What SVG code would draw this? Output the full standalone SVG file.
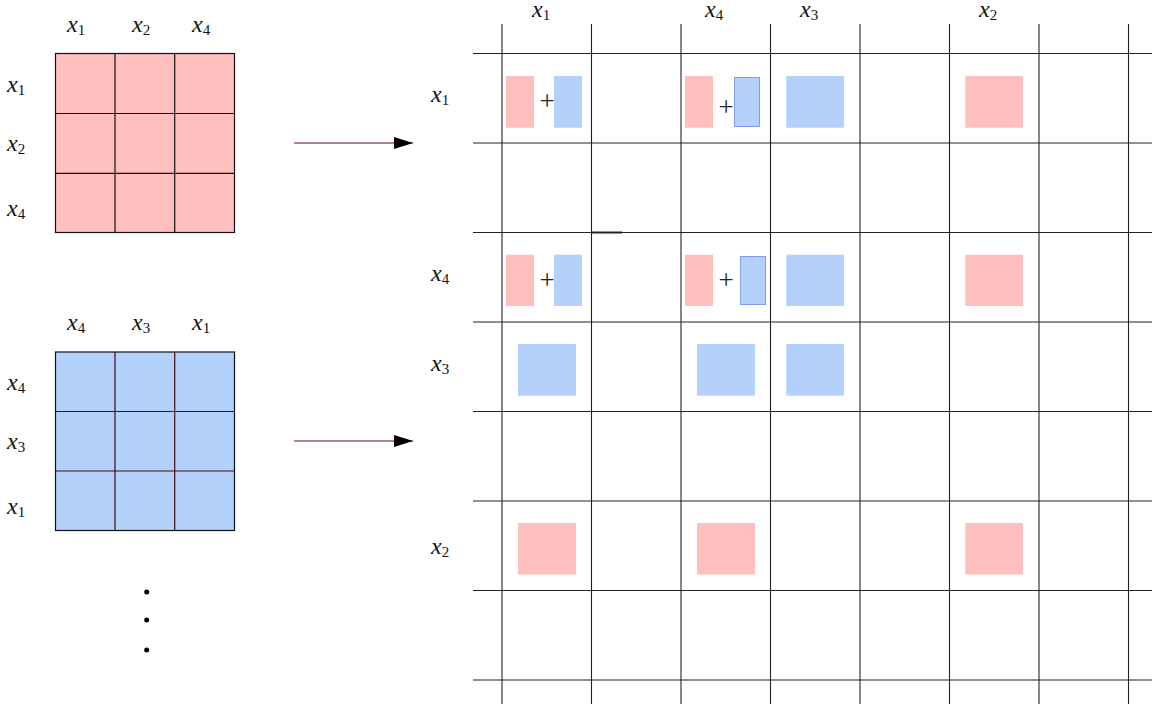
<svg xmlns="http://www.w3.org/2000/svg" width="1152" height="704" viewBox="0 0 1152 704">
<defs>
<style>
.lbl{font-family:"Liberation Serif",serif;font-size:24px;fill:#111}
.lbl .v{font-style:italic}
.lbl .s{font-size:15px;font-style:normal}
.plus{font-family:"Liberation Serif",serif;font-size:27px;fill:#222;text-anchor:middle}
.pink{fill:#ffbfbf}
.blue{fill:#b3d1fb}
.bluek{fill:#b3d1fb;stroke:#7f9cf0;stroke-width:1}
.grid line{stroke:#222;stroke-width:1.1}
.mline{stroke:#111;stroke-width:1.2;fill:none}
.mline2{stroke:#4a0a12;stroke-width:1.2;fill:none}
.conn{stroke:#5a0d12;stroke-width:1.1;fill:none}
</style>
<marker id="ah" markerWidth="20" markerHeight="12" refX="19" refY="6" orient="auto" markerUnits="userSpaceOnUse">
<path d="M0,0 L19,6 L0,12 Z" fill="#000"/>
</marker>
</defs>
<rect width="1152" height="704" fill="#fff"/>

<g id="matrix-pink">
<rect x="55.5" y="53.5" width="179" height="179" class="pink"/>
<path class="mline" d="M115,53.5V232.5M174.7,53.5V232.5M55.5,113.5H234.5M55.5,173.3H234.5"/>
<rect x="55.5" y="53.5" width="179" height="179" class="mline"/>
<text class="lbl" x="67" y="32"><tspan class="v">x</tspan><tspan class="s" dy="3">1</tspan></text>
<text class="lbl" x="132" y="32"><tspan class="v">x</tspan><tspan class="s" dy="3">2</tspan></text>
<text class="lbl" x="192" y="32"><tspan class="v">x</tspan><tspan class="s" dy="3">4</tspan></text>
<text class="lbl" x="7" y="92"><tspan class="v">x</tspan><tspan class="s" dy="3">1</tspan></text>
<text class="lbl" x="7" y="151"><tspan class="v">x</tspan><tspan class="s" dy="3">2</tspan></text>
<text class="lbl" x="7" y="216"><tspan class="v">x</tspan><tspan class="s" dy="3">4</tspan></text>
</g>

<g id="matrix-blue">
<rect x="55.5" y="352" width="179" height="178.5" class="blue"/>
<path class="mline2" d="M115,352V530.5M174.7,352V530.5M55.5,411.5H234.5M55.5,471H234.5"/>
<rect x="55.5" y="352" width="179" height="178.5" class="mline"/>
<text class="lbl" x="67" y="330"><tspan class="v">x</tspan><tspan class="s" dy="3">4</tspan></text>
<text class="lbl" x="132" y="330"><tspan class="v">x</tspan><tspan class="s" dy="3">3</tspan></text>
<text class="lbl" x="192" y="330"><tspan class="v">x</tspan><tspan class="s" dy="3">1</tspan></text>
<text class="lbl" x="7" y="390"><tspan class="v">x</tspan><tspan class="s" dy="3">4</tspan></text>
<text class="lbl" x="7" y="449"><tspan class="v">x</tspan><tspan class="s" dy="3">3</tspan></text>
<text class="lbl" x="7" y="514"><tspan class="v">x</tspan><tspan class="s" dy="3">1</tspan></text>
</g>

<g id="ellipsis">
<circle cx="146.7" cy="592" r="2.5" fill="#000"/>
<circle cx="146.7" cy="620" r="2.5" fill="#000"/>
<circle cx="146.7" cy="650" r="2.5" fill="#000"/>
</g>

<g id="connectors">
<line class="conn" x1="294" y1="143" x2="413" y2="143" marker-end="url(#ah)"/>
<line class="conn" x1="294" y1="441" x2="413" y2="441" marker-end="url(#ah)"/>
</g>

<g id="grid" class="grid">
<line x1="473" y1="53.5" x2="1152" y2="53.5"/>
<line x1="473" y1="143" x2="1152" y2="143"/>
<line x1="473" y1="232.5" x2="1152" y2="232.5"/>
<line x1="473" y1="322" x2="1152" y2="322"/>
<line x1="473" y1="411.5" x2="1152" y2="411.5"/>
<line x1="473" y1="501" x2="1152" y2="501"/>
<line x1="473" y1="590.5" x2="1152" y2="590.5"/>
<line x1="473" y1="680" x2="1152" y2="680"/>
<line x1="502" y1="24" x2="502" y2="704"/>
<line x1="591.5" y1="24" x2="591.5" y2="704"/>
<line x1="681" y1="24" x2="681" y2="704"/>
<line x1="770.5" y1="24" x2="770.5" y2="704"/>
<line x1="860" y1="24" x2="860" y2="704"/>
<line x1="949.5" y1="24" x2="949.5" y2="704"/>
<line x1="1039" y1="24" x2="1039" y2="704"/>
<line x1="1128.5" y1="24" x2="1128.5" y2="704"/>
<line x1="591.5" y1="232.5" x2="622" y2="232.5" style="stroke-width:2"/>
</g>

<g id="grid-labels">
<text class="lbl" x="532" y="17"><tspan class="v">x</tspan><tspan class="s" dy="3">1</tspan></text>
<text class="lbl" x="705" y="17"><tspan class="v">x</tspan><tspan class="s" dy="3">4</tspan></text>
<text class="lbl" x="800" y="17"><tspan class="v">x</tspan><tspan class="s" dy="3">3</tspan></text>
<text class="lbl" x="979" y="17"><tspan class="v">x</tspan><tspan class="s" dy="3">2</tspan></text>
<text class="lbl" x="431" y="102"><tspan class="v">x</tspan><tspan class="s" dy="3">1</tspan></text>
<text class="lbl" x="431" y="281"><tspan class="v">x</tspan><tspan class="s" dy="3">4</tspan></text>
<text class="lbl" x="431" y="371"><tspan class="v">x</tspan><tspan class="s" dy="3">3</tspan></text>
<text class="lbl" x="431" y="554"><tspan class="v">x</tspan><tspan class="s" dy="3">2</tspan></text>
</g>

<g id="row-x1">
<rect class="pink" x="506" y="76" width="28" height="51.7"/>
<text class="plus" x="547" y="110">+</text>
<rect class="blue" x="554" y="76" width="28" height="51.7"/>
<rect class="pink" x="685" y="76" width="28" height="51.7"/>
<text class="plus" x="726" y="116">+</text>
<rect class="bluek" x="734.5" y="77.5" width="25" height="49"/>
<rect class="blue" x="786.3" y="76" width="57.7" height="51.7"/>
<rect class="pink" x="965.3" y="76" width="57.7" height="51.7"/>
</g>

<g id="row-x4">
<rect class="pink" x="506" y="254.7" width="28" height="51.3"/>
<text class="plus" x="547" y="289">+</text>
<rect class="blue" x="554" y="254.7" width="28" height="51.3"/>
<rect class="pink" x="685" y="254.7" width="28" height="51.3"/>
<text class="plus" x="726" y="289">+</text>
<rect class="bluek" x="740.5" y="256.5" width="25" height="48"/>
<rect class="blue" x="786.3" y="254.7" width="57.7" height="51.3"/>
<rect class="pink" x="965.3" y="254.7" width="57.7" height="51.3"/>
</g>

<g id="row-x3">
<rect class="blue" x="518" y="344" width="58" height="51.7"/>
<rect class="blue" x="697" y="344" width="58" height="51.7"/>
<rect class="blue" x="786.3" y="344" width="57.7" height="51.7"/>
</g>

<g id="row-x2">
<rect class="pink" x="518" y="523" width="58" height="51.5"/>
<rect class="pink" x="697" y="523" width="58" height="51.5"/>
<rect class="pink" x="965.3" y="523" width="57.7" height="51.5"/>
</g>
</svg>
